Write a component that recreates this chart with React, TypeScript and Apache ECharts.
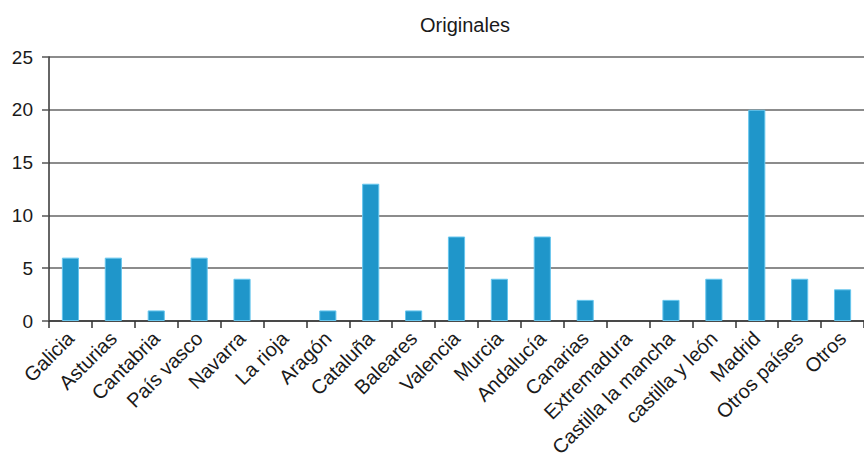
import React, { useEffect, useRef } from "react";
import * as echarts from "echarts";

const categories = [
  "Galicia",
  "Asturias",
  "Cantabria",
  "País vasco",
  "Navarra",
  "La rioja",
  "Aragón",
  "Cataluña",
  "Baleares",
  "Valencia",
  "Murcia",
  "Andalucía",
  "Canarias",
  "Extremadura",
  "Castilla la mancha",
  "castilla y león",
  "Madrid",
  "Otros países",
  "Otros",
];

const originales = [6, 6, 1, 6, 4, 0, 1, 13, 1, 8, 4, 8, 2, 0, 2, 4, 20, 4, 3];

const yTicks = { min: 0, max: 25, interval: 5 };

const FONT = "'Liberation Sans', Arial, Helvetica, sans-serif";

export default function App() {
  const ref = useRef<HTMLDivElement>(null);

  useEffect(() => {
    if (!ref.current) return;
    const chart = echarts.init(ref.current, null, { renderer: "svg" });
    // empty categories get no outline, so nothing shows on the baseline
    const barData = originales.map((v) =>
      v === 0 ? { value: v, itemStyle: { borderWidth: 0 } } : v
    );
    chart.setOption({
      animation: false,
      backgroundColor: "#ffffff",
      title: {
        text: "Originales",
        left: 460,
        top: 10,
        textAlign: "center",
        textStyle: {
          fontFamily: FONT,
          fontSize: 20,
          fontWeight: "normal",
          color: "#1a1a1a",
        },
      },
      grid: { left: 49, top: 57, width: 821, height: 264 },
      xAxis: {
        type: "category",
        data: categories,
        boundaryGap: true,
        axisLine: { show: true, lineStyle: { color: "#333", width: 1.5 } },
        axisTick: {
          show: true,
          length: 7,
          alignWithLabel: false,
          interval: 0,
          lineStyle: { color: "#333", width: 1.5 },
        },
        axisLabel: {
          interval: 0,
          rotate: 45,
          margin: 14,
          fontFamily: FONT,
          fontSize: 20,
          color: "#1a1a1a",
        },
      },
      yAxis: {
        type: "value",
        min: yTicks.min,
        max: yTicks.max,
        interval: yTicks.interval,
        axisLine: { show: true, lineStyle: { color: "#333", width: 1.5 } },
        axisTick: { show: true, length: 7, lineStyle: { color: "#555", width: 1.5 } },
        axisLabel: {
          margin: 16,
          fontFamily: FONT,
          fontSize: 19,
          color: "#1a1a1a",
        },
        splitLine: { show: true, lineStyle: { color: "#666", width: 1.5 } },
      },
      series: [
        {
          type: "bar",
          data: barData,
          barWidth: "40%",
          itemStyle: {
            color: "#1f96ca",
            borderColor: "#66c6ee",
            borderWidth: 1,
          },
        },
      ],
    });
    return () => chart.dispose();
  }, []);

  return (
    <div
      ref={ref}
      style={{ position: "fixed", left: 0, top: 0, width: 864, height: 470 }}
    />
  );
}
